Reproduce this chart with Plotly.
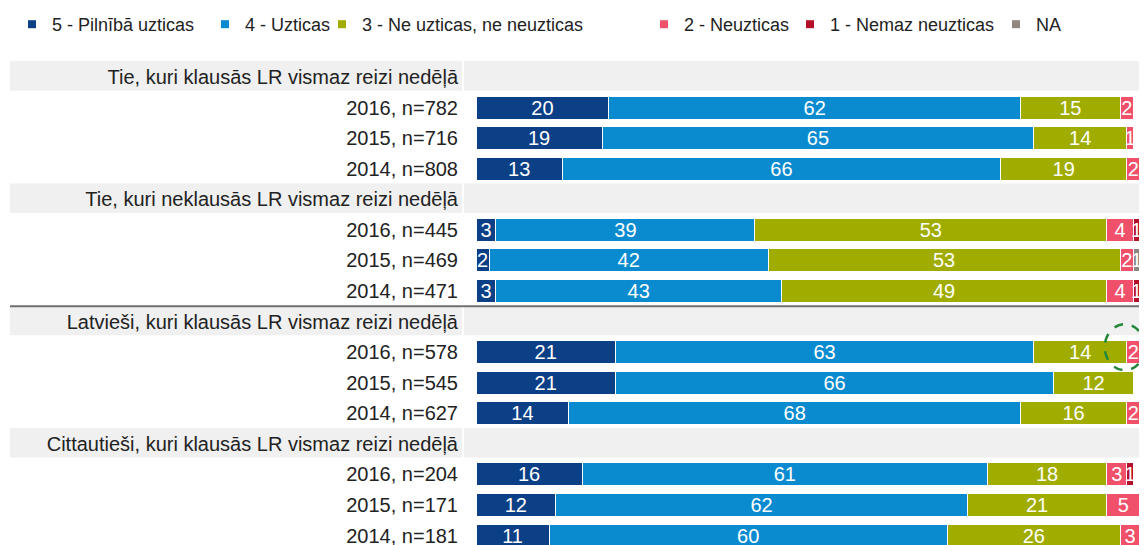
import plotly.graph_objects as go

# ---- data ----
categories = [
    "Tie, kuri klausās LR vismaz reizi nedēļā",
    "2016, n=782", "2015, n=716", "2014, n=808",
    "Tie, kuri neklausās LR vismaz reizi nedēļā",
    "2016, n=445", "2015, n=469", "2014, n=471",
    "Latvieši, kuri klausās LR vismaz reizi nedēļā",
    "2016, n=578", "2015, n=545", "2014, n=627",
    "Cittautieši, kuri klausās LR vismaz reizi nedēļā",
    "2016, n=204", "2015, n=171", "2014, n=181",
]
header_slots = [0, 4, 8, 12]

series_names = ["5 - Pilnībā uzticas", "4 - Uzticas", "3 - Ne uzticas, ne neuzticas",
                "2 - Neuzticas", "1 - Nemaz neuzticas", "NA"]
s5 = [20, 19, 13, 3, 2, 3, 21, 21, 14, 16, 12, 11]
s4 = [62, 65, 66, 39, 42, 43, 63, 66, 68, 61, 62, 60]
s3 = [15, 14, 19, 53, 53, 49, 14, 12, 16, 18, 21, 26]
s2 = [2, 1, 2, 4, 2, 4, 2, 0, 2, 3, 5, 3]
s1 = [0, 0, 0, 1, 0, 1, 0, 0, 0, 1, 0, 0]
sNA = [0, 0, 0, 0, 1, 0, 0, 0, 0, 0, 0, 0]
series_values = [s5, s4, s3, s2, s1, sNA]
colors = ["#0b3f86", "#0a8bd0", "#a0ad00", "#f0506a", "#b5102a", "#8f8682"]

# highlighted segment (row index among bar rows, series index)
highlight_row, highlight_series = 6, 3

# ---- derived positions (page px -> figure px; the page body has an 8px margin) ----
OFF = 8
slots = list(range(len(categories)))
bar_slots = [s for s in slots if s not in header_slots]

FIG_W, FIG_H = 1147 - OFF, 545 - OFF
PLOT_L, PLOT_R, PLOT_T = 476 - OFF, 1140 - OFF, 56 - OFF
plot_w = PLOT_R - PLOT_L
plot_h = FIG_H - PLOT_T
Y_RANGE = [15.31, -0.687]


def px_to_paper(page_px):
    return (page_px - OFF - PLOT_L) / plot_w


def y_to_paper(yv):
    return (Y_RANGE[0] - yv) / (Y_RANGE[0] - Y_RANGE[1])


fig = go.Figure()

for name, vals, col in zip(series_names, series_values, colors):
    fig.add_trace(go.Bar(
        y=bar_slots, x=vals, orientation="h", name=name,
        marker=dict(color=col, line=dict(color="white", width=1)),
        text=[str(v) if v > 0 else "" for v in vals],
        textposition="inside", insidetextanchor="middle", textangle=0,
        textfont=dict(color="white", size=20, family="Liberation Sans"),
        showlegend=False, legendgroup=name, hoverinfo="x+name",
    ))

# legend entries (one legend per item to reproduce the spacing)
legend_text_px = [52, 245, 362, 684, 830, 1036]
for i, (name, col) in enumerate(zip(series_names, colors)):
    lid = "legend" if i == 0 else f"legend{i+1}"
    fig.add_trace(go.Scatter(
        x=[None], y=[None], mode="markers", name=name, legendgroup=name,
        marker=dict(symbol="square", size=8, color=col),
        showlegend=True, legend=lid,
    ))

legend_common = dict(
    orientation="h", yanchor="middle", xanchor="left",
    font=dict(size=18, color="#222222", family="Liberation Sans"),
    bgcolor="rgba(0,0,0,0)", borderwidth=0, itemwidth=30,
)
legend_y = 1 + (PLOT_T - (24.5 - OFF)) / plot_h
layout_legends = {}
for i, tx in enumerate(legend_text_px):
    lid = "legend" if i == 0 else f"legend{i+1}"
    layout_legends[lid] = dict(legend_common, x=px_to_paper(tx - 40), y=legend_y)

# shapes: header bands, separator, highlight circle
shapes = []
for h in header_slots:
    shapes.append(dict(type="rect", xref="paper", yref="y", layer="below",
                       x0=px_to_paper(10), x1=px_to_paper(462), y0=h - 0.52, y1=h + 0.45,
                       fillcolor="#f0f0f0", line=dict(width=0)))
    shapes.append(dict(type="rect", xref="paper", yref="y", layer="below",
                       x0=px_to_paper(464), x1=px_to_paper(1170), y0=h - 0.52, y1=h + 0.45,
                       fillcolor="#f0f0f0", line=dict(width=0)))
shapes.append(dict(type="line", xref="paper", yref="y",
                   x0=px_to_paper(10), x1=px_to_paper(1170), y0=7.5, y1=7.5,
                   line=dict(color="#707070", width=2)))

hx = sum(series_values[k][highlight_row] for k in range(highlight_series)) / 100.0 - 0.003
hy = y_to_paper(bar_slots[highlight_row] - 0.16)
rx = 20 / plot_w
ry = 23 / plot_h
shapes.append(dict(type="circle", xref="paper", yref="paper",
                   x0=hx - rx, x1=hx + rx, y0=hy - ry, y1=hy + ry,
                   line=dict(color="#23883a", width=2.5, dash="dash")))

fig.update_layout(
    width=FIG_W, height=FIG_H, autosize=False,
    margin=dict(l=PLOT_L, r=FIG_W - PLOT_R, t=PLOT_T, b=0, pad=0, autoexpand=False),
    barmode="stack", bargap=0.25,
    plot_bgcolor="white", paper_bgcolor="white",
    font=dict(family="Liberation Sans", color="#222222"),
    uniformtext=dict(minsize=20, mode="show"),
    xaxis=dict(range=[0, 100], visible=False, fixedrange=True, automargin=False),
    yaxis=dict(
        range=Y_RANGE, tickmode="array", tickvals=slots, ticktext=categories,
        tickfont=dict(size=20, color="#222222", family="Liberation Sans"),
        showgrid=False, zeroline=False, showline=False, automargin=False,
        ticks="outside", ticklen=13, tickcolor="rgba(0,0,0,0)",
        ticklabeloverflow="allow",
    ),
    shapes=shapes,
    **layout_legends,
)

fig.write_html("out.html")
